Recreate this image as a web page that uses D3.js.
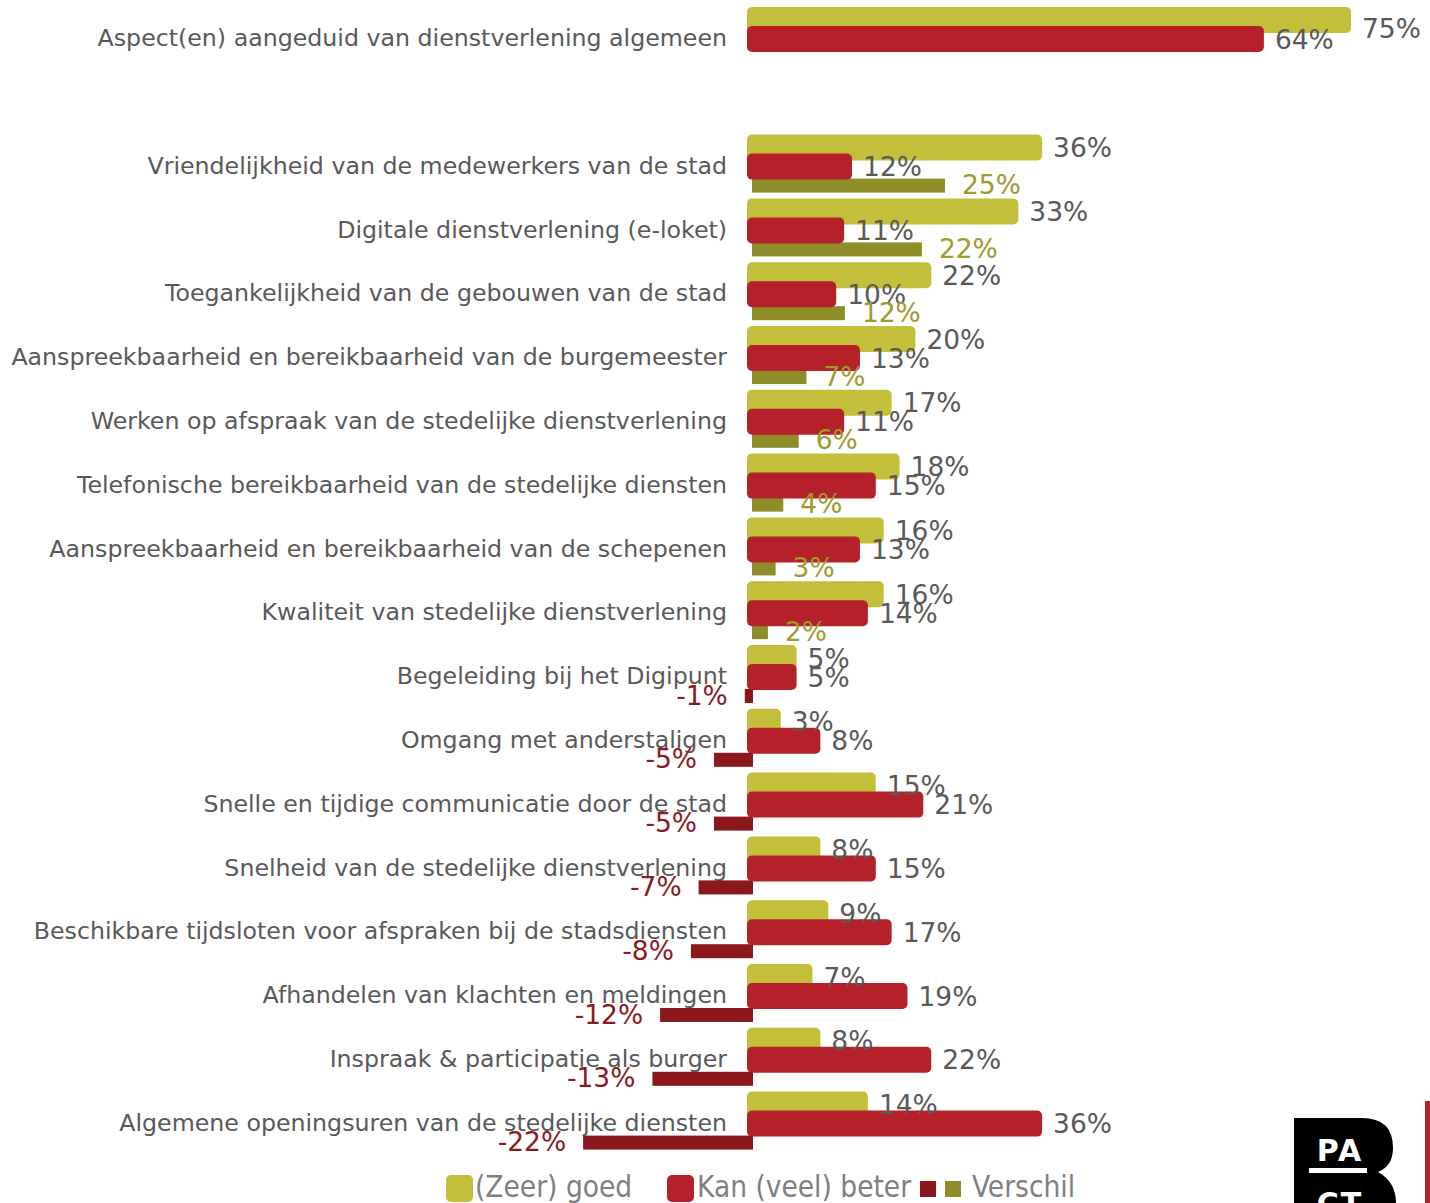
<!DOCTYPE html>
<html><head><meta charset="utf-8">
<script src="https://cdn.jsdelivr.net/npm/d3@7"></script>
<style>body{margin:0;background:#fff}svg{display:block}</style>
</head><body>
<svg id="c" width="1430" height="1203"></svg>
<script>
const categories = [
 "Aspect(en) aangeduid van dienstverlening algemeen",
 "Vriendelijkheid van de medewerkers van de stad",
 "Digitale dienstverlening (e-loket)",
 "Toegankelijkheid van de gebouwen van de stad",
 "Aanspreekbaarheid en bereikbaarheid van de burgemeester",
 "Werken op afspraak van de stedelijke dienstverlening",
 "Telefonische bereikbaarheid van de stedelijke diensten",
 "Aanspreekbaarheid en bereikbaarheid van de schepenen",
 "Kwaliteit van stedelijke dienstverlening",
 "Begeleiding bij het Digipunt",
 "Omgang met anderstaligen",
 "Snelle en tijdige communicatie door de stad",
 "Snelheid van de stedelijke dienstverlening",
 "Beschikbare tijdsloten voor afspraken bij de stadsdiensten",
 "Afhandelen van klachten en meldingen",
 "Inspraak & participatie als burger",
 "Algemene openingsuren van de stedelijke diensten"
];
const goed =     [75,36,33,22,20,17,18,16,16,5,3,15,8,9,7,8,14];
const beter =    [64,12,11,10,13,11,15,13,14,5,8,21,15,17,19,22,36];
const verschil = [null,25,22,12,7,6,4,3,2,-1,-5,-5,-7,-8,-12,-13,-22];
const legendLabels = ["(Zeer) goed","Kan (veel) beter","Verschil"];

const C = {goed:"#c3bf3a", beter:"#b52129", pos:"#8f8c2a", neg:"#8a181d", posTxt:"#9f9a2c", negTxt:"#8b1a1e", txt:"#595959", leg:"#7f7f7f"};

const svg = d3.select("#c");
const slots = d3.range(18);
const y = d3.scaleBand().domain(slots).range([7, 7 + 18*63.8]).padding(0);
const slotOf = i => i === 0 ? 0 : i + 1;
const x = d3.scaleLinear().domain([0,75]).range([757,1351]);
const xd = d3.scaleLinear().domain([0,25]).range([752.5,945]);
const x0 = 747;

const data = categories.map((c,i)=>({i, c, g:goed[i], b:beter[i], d:verschil[i], y0:y(slotOf(i))}));

const row = svg.selectAll("g.row").data(data).join("g").attr("class","row");

row.append("text")
  .attr("x",727).attr("y",d=>d.y0+31).attr("dy","0.35em")
  .attr("text-anchor","end")
  .style("font-family","'DejaVu Sans', sans-serif").style("font-size","23.7px")
  .attr("fill",C.txt).text(d=>d.c);

// verschil bars
row.filter(d=>d.d!==null).append("rect")
  .attr("x",d=>d.d>=0?752:xd(d.d))
  .attr("width",d=>d.d>=0?xd(d.d)-752:753-xd(d.d))
  .attr("y",d=>d.y0+44).attr("height",14)
  .attr("fill",d=>d.d>=0?C.pos:C.neg);

row.append("rect").attr("x",x0).attr("y",d=>d.y0).attr("width",d=>x(d.g)-x0).attr("height",26)
  .attr("rx",5).attr("fill",C.goed);
row.append("rect").attr("x",x0).attr("y",d=>d.y0+19).attr("width",d=>x(d.b)-x0).attr("height",26)
  .attr("rx",5).attr("fill",C.beter);

const valFont = sel => sel.style("font-family","'DejaVu Sans', sans-serif").style("font-size","26.5px");

row.append("text").call(valFont).attr("x",d=>x(d.g)+11).attr("y",d=>d.y0+(d.i===0?21:13)).attr("dy","0.36em")
  .attr("fill",C.txt).text(d=>d.g+"%");
row.append("text").call(valFont).attr("x",d=>x(d.b)+11).attr("y",d=>d.y0+32).attr("dy","0.36em")
  .attr("fill",C.txt).text(d=>d.b+"%");
row.filter(d=>d.d!==null).append("text").call(valFont)
  .attr("x",d=>d.d>=0?xd(d.d)+17:xd(d.d)-17)
  .attr("text-anchor",d=>d.d>=0?"start":"end")
  .attr("y",d=>d.y0+50).attr("dy","0.36em")
  .attr("fill",d=>d.d>=0?C.posTxt:C.negTxt).text(d=>d.d+"%");

// legend
const lg = svg.append("g");
const lf = sel => sel.style("font-family","'DejaVu Sans Condensed','DejaVu Sans',sans-serif").style("font-stretch","condensed").style("font-size","29.5px").attr("fill",C.leg);
lg.append("rect").attr("x",446).attr("y",1175).attr("width",27).attr("height",27).attr("rx",5).attr("fill",C.goed);
lg.append("text").call(lf).attr("x",475).attr("y",1197).text(legendLabels[0]);
lg.append("rect").attr("x",667).attr("y",1175).attr("width",27).attr("height",27).attr("rx",5).attr("fill",C.beter);
lg.append("text").call(lf).attr("x",697).attr("y",1197).text(legendLabels[1]);
lg.append("rect").attr("x",920).attr("y",1181).attr("width",16).attr("height",16).attr("fill",C.neg);
lg.append("rect").attr("x",945).attr("y",1181).attr("width",16).attr("height",16).attr("fill",C.pos);
lg.append("text").call(lf).attr("x",972).attr("y",1197).text(legendLabels[2]);

// logo
const logo = svg.append("g");
logo.append("path").attr("d","M1294,1118 H1362 Q1393,1118 1393,1148 Q1393,1166 1378,1172 Q1396,1182 1396,1203 H1294 Z").attr("fill","#000");
logo.append("text").attr("x",1340).attr("y",1161).attr("text-anchor","middle")
  .style("font-family","'DejaVu Sans',sans-serif").style("font-weight","bold").style("font-size","30px").style("letter-spacing","2px").attr("fill","#fff").text("PA");
logo.append("rect").attr("x",1309).attr("y",1168).attr("width",58).attr("height",5).attr("fill","#fff");
logo.append("text").attr("x",1340).attr("y",1214).attr("text-anchor","middle")
  .style("font-family","'DejaVu Sans',sans-serif").style("font-weight","bold").style("font-size","30px").style("letter-spacing","2px").attr("fill","#fff").text("CT");
svg.append("rect").attr("x",1425).attr("y",1101).attr("width",5).attr("height",102).attr("fill",C.beter);
</script>
</body></html>
